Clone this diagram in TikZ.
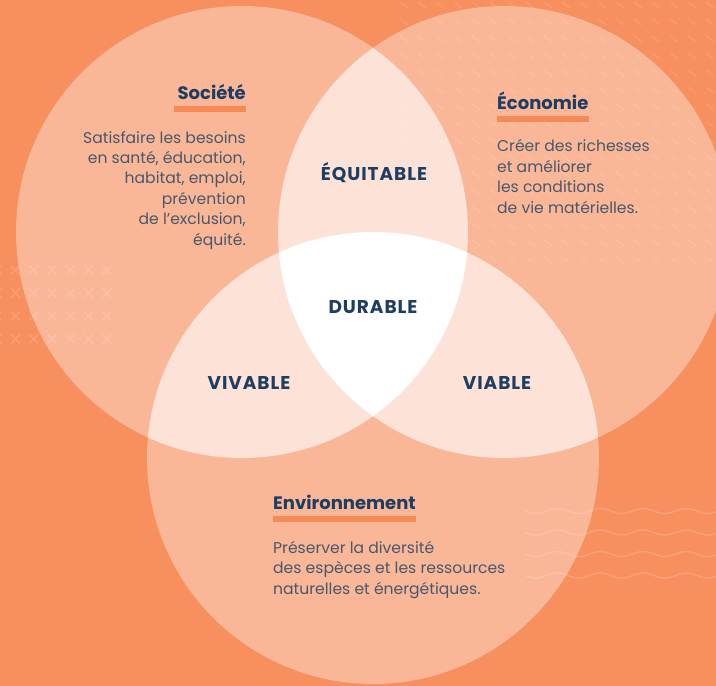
\documentclass[tikz,border=0pt]{standalone}
\usepackage{fontspec}
\setmainfont{Poppins}
\definecolor{bgorange}{HTML}{F78F5F}
\definecolor{peach}{HTML}{F9B797}
\definecolor{blush}{HTML}{FDE3D7}
\definecolor{barorange}{HTML}{F68A57}
\definecolor{navy}{HTML}{1D3D63}
\definecolor{slate}{HTML}{47586E}
\tikzset{
  title/.style={font=\fontsize{18}{22}\selectfont\bfseries, text=navy, inner sep=0pt},
  body/.style={font=\fontsize{15.6}{20.4}\selectfont, text=slate, inner sep=0pt},
  zone/.style={font=\fontsize{18.5}{20}\selectfont\bfseries\addfontfeatures{LetterSpace=5}, text=navy, inner sep=0pt, anchor=base},
  bar/.style={fill=barorange},
  motif/.style={draw=white, draw opacity=0.16, line width=1.4pt},
  dashmotif/.style={draw=white, draw opacity=0.12, line width=1.2pt}
}
\begin{document}
\begin{tikzpicture}[x=1pt, y=-1pt]
  \useasboundingbox (0,0) rectangle (716,686);
  \fill[bgorange] (0,0) rectangle (716,686);

  % Circle centres
  \coordinate (soc) at (242,232);
  \coordinate (eco) at (504,232);
  \coordinate (env) at (373,458);

  % Single circles
  \fill[peach] (soc) circle [radius=226pt];
  \fill[peach] (eco) circle [radius=226pt];
  \fill[peach] (env) circle [radius=226pt];

  % Pairwise overlaps
  \begin{scope}
    \clip (soc) circle [radius=226pt];
    \fill[blush] (eco) circle [radius=226pt];
    \fill[blush] (env) circle [radius=226pt];
  \end{scope}
  \begin{scope}
    \clip (eco) circle [radius=226pt];
    \fill[blush] (env) circle [radius=226pt];
  \end{scope}

  % Centre
  \begin{scope}
    \clip (soc) circle [radius=226pt];
    \clip (eco) circle [radius=226pt];
    \fill[white] (env) circle [radius=226pt];
  \end{scope}

  % Background motifs
  \begin{scope}
    \clip (400,0) rectangle (716,270);
    \foreach \i in {0,...,18}
      \foreach \j in {0,...,16}
        \draw[dashmotif] ({400+18*\i},{2+17*\j}) -- ++(8,6);
  \end{scope}
  \begin{scope}
    \clip (0,255) rectangle (121,355);
    \foreach \i in {0,...,7}
      \foreach \j in {0,...,3}
        \draw[motif, shift={({-3+18.3*\i},{270+23*\j})}] (-4.5,-4.5) -- (4.5,4.5) (-4.5,4.5) -- (4.5,-4.5);
  \end{scope}
  \foreach \j in {0,...,3}
    \draw[motif] plot[domain=0:191, samples=120] ({525+\x}, {511+21.5*\j+2.5*sin(\x*8.372)});

  % Societe (base of a multi-line node = its last line)
  \node[title, anchor=base east] (socTitle) at (246,99) {Société};
  \fill[bar] ([xshift=-3pt, yshift=-6.5pt]socTitle.base west) rectangle ([yshift=-12.5pt]socTitle.base east);
  \node[body, align=right, anchor=base east] (socText) at (246,245)
    {Satisfaire les besoins\\en santé, éducation,\\habitat, emploi,\\prévention\\de l’exclusion,\\équité.};

  % Economie
  \node[title, anchor=base west] (ecoTitle) at (497,109) {Économie};
  \fill[bar] ([yshift=-6.5pt]ecoTitle.base west) rectangle ([yshift=-12.5pt]ecoTitle.base east);
  \node[body, align=left, anchor=base west] (ecoText) at (497,213)
    {Créer des richesses\\et améliorer\\les conditions\\de vie matérielles.};

  % Environnement
  \node[title, anchor=base west] (envTitle) at (273,509) {Environnement};
  \fill[bar] ([yshift=-6.5pt]envTitle.base west) rectangle ([yshift=-12.5pt]envTitle.base east);
  \node[body, align=left, anchor=base west] (envText) at (273,594)
    {Préserver la diversité\\des espèces et les ressources\\naturelles et énergétiques.};

  % Overlap labels
  \node[zone] (equitable) at (374,180) {ÉQUITABLE};
  \node[zone] (durable) at (373,313) {DURABLE};
  \node[zone] (vivable) at (249,389) {VIVABLE};
  \node[zone] (viable) at (497,389) {VIABLE};
\end{tikzpicture}
\end{document}
